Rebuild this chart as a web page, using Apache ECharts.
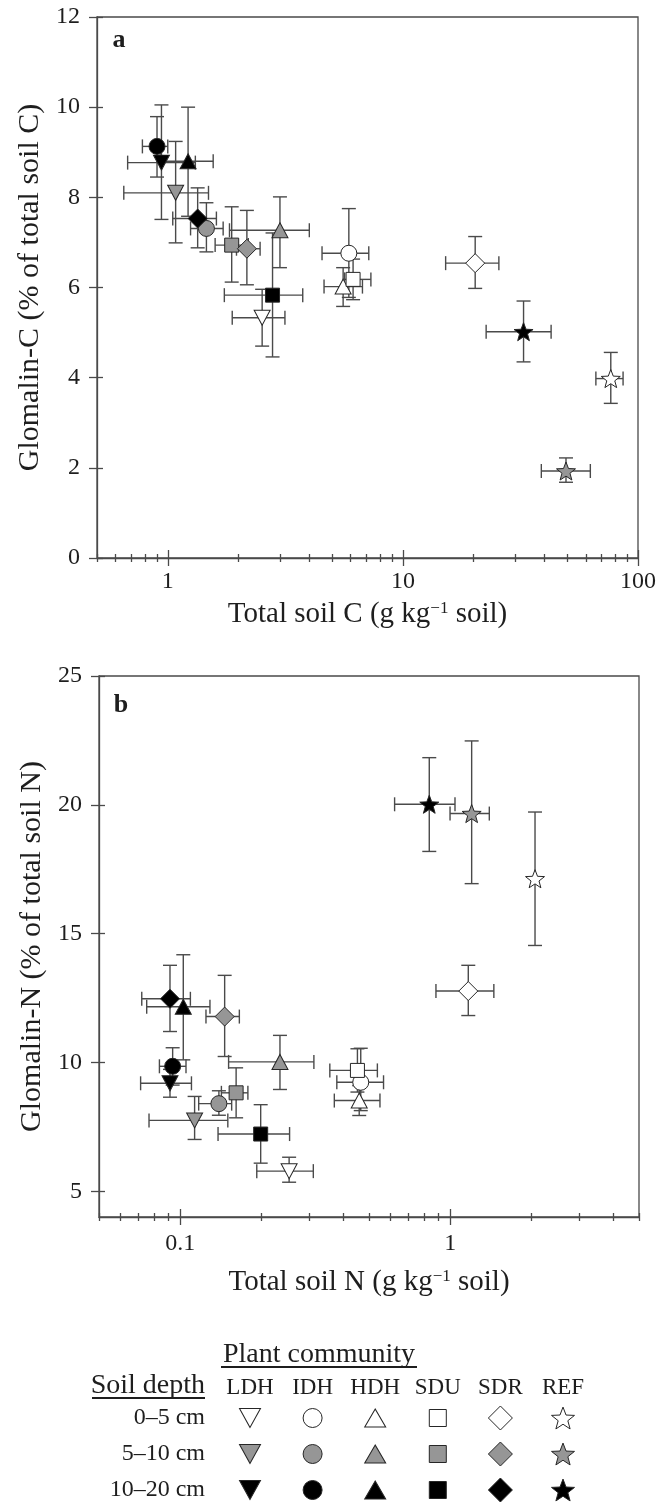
<!DOCTYPE html>
<html>
<head>
<meta charset="utf-8">
<script src="https://cdn.jsdelivr.net/npm/echarts@6/dist/echarts.min.js"></script>
<style>
  html, body { margin: 0; padding: 0; background: #fff; }
  #chart { width: 670px; height: 1503px; }
</style>
</head>
<body>
<div id="chart"></div>
<script>
// categories
const communities = ['LDH', 'IDH', 'HDH', 'SDU', 'SDR', 'REF'];
const depths = ['0–5 cm', '5–10 cm', '10–20 cm'];

// panel a – rows are depths (0–5, 5–10, 10–20), columns are communities
const totalC    = [[2.52, 5.89, 5.57, 6.14, 20.3, 76.6],
                   [1.08, 1.46, 3.00, 1.87, 2.17, 49.4],
                   [0.94, 0.90, 1.22, 2.79, 1.34, 32.6]];
const totalCLo  = [[1.88, 4.53, 4.62, 5.65, 15.2, 66.2],
                   [0.65, 1.25, 1.83, 1.59, 1.96, 38.8],
                   [0.675, 0.78, 0.93, 1.74, 1.05, 22.6]];
const totalCHi  = [[3.15, 7.16, 6.73, 7.31, 25.6, 86.4],
                   [1.49, 1.72, 4.00, 2.20, 2.47, 62.7],
                   [1.31, 1.00, 1.56, 3.75, 1.61, 42.7]];
const glomC     = [[5.33, 6.76, 6.02, 6.18, 6.54, 3.98],
                   [8.10, 7.31, 7.27, 6.94, 6.86, 1.93],
                   [8.77, 9.13, 8.80, 5.83, 7.53, 5.02]];
const glomCLo   = [[4.70, 5.78, 5.58, 5.73, 5.98, 3.43],
                   [6.99, 6.79, 6.44, 6.12, 6.06, 1.68],
                   [7.51, 8.45, 7.58, 4.46, 6.88, 4.35]];
const glomCHi   = [[5.96, 7.75, 6.44, 6.63, 7.13, 4.56],
                   [9.24, 7.88, 8.01, 7.79, 7.71, 2.22],
                   [10.05, 9.79, 10.0, 7.21, 8.21, 5.70]];

// panel b
const totalN    = [[0.253, 0.466, 0.460, 0.453, 1.166, 2.06],
                   [0.113, 0.139, 0.234, 0.161, 0.146, 1.20],
                   [0.0916, 0.0937, 0.1026, 0.1985, 0.0916, 0.836]];
const totalNLo  = [[0.192, 0.380, 0.372, 0.358, 0.885, 2.06],
                   [0.0766, 0.117, 0.151, 0.142, 0.1245, 0.998],
                   [0.0713, 0.0837, 0.0751, 0.138, 0.072, 0.622]];
const totalNHi  = [[0.311, 0.566, 0.549, 0.537, 1.45, 2.06],
                   [0.150, 0.155, 0.3125, 0.178, 0.1655, 1.395],
                   [0.110, 0.105, 0.1288, 0.254, 0.109, 1.041]];
const glomN     = [[5.78, 9.23, 8.52, 9.69, 12.77, 17.13],
                   [7.75, 8.40, 10.02, 8.82, 11.78, 19.66],
                   [9.19, 9.85, 12.16, 7.22, 12.47, 20.02]];
const glomNLo   = [[5.35, 8.13, 7.94, 8.85, 11.82, 14.54],
                   [7.01, 7.95, 8.95, 7.85, 10.23, 16.94],
                   [8.65, 9.12, 10.10, 6.09, 11.20, 18.19]];
const glomNHi   = [[6.32, 10.55, 9.10, 10.53, 13.77, 19.72],
                   [8.68, 8.90, 11.05, 9.79, 13.38, 22.48],
                   [9.73, 10.57, 14.18, 8.36, 13.77, 21.83]];

// tick values
const cMajor = [1, 10, 100];
const cMinor = [0.5, 0.6, 0.7, 0.8, 0.9, 2, 3, 4, 5, 6, 7, 8, 9, 20, 30, 40, 50, 60, 70, 80, 90];
const nMajor = [0.1, 1];
const nMinor = [0.05, 0.06, 0.07, 0.08, 0.09, 0.2, 0.3, 0.4, 0.5, 0.6, 0.7, 0.8, 0.9, 2, 3, 4, 5];
const glomCTicks = [0, 2, 4, 6, 8, 10, 12];
const glomNTicks = [5, 10, 15, 20, 25];

const FONT = '"Liberation Serif", "DejaVu Serif", serif';
const INK = '#1e1e1e';
const AXIS = '#4a4a4a';
const fills = ['#ffffff', '#969696', '#000000'];
const STAR = 'path://M50 0 L62.5 33 L97.6 34.5 L70 56.5 L79.4 90.5 L50 71 L20.6 90.5 L30 56.5 L2.4 34.5 L37.5 33 Z';
const symbols = ['triangle', 'circle', 'triangle', 'rect', 'diamond', STAR];
const rotates = [180, 0, 0, 0, 0, 0];
const sizes = [[16, 15], 16, [16, 15], 14, 19, 19];
const keySizes = [[21, 19], 19, [21, 18], 17, 24, 23];

const tickLine = { color: AXIS, width: 1.3 };

function logAxes(grid, min, max, major, minor, name, nameGap, labelMargin) {
  const base = {
    type: 'log', logBase: 10, gridIndex: grid, min: min, max: max, position: 'bottom',
    splitLine: { show: false }, axisLine: { show: false, onZero: false },
    axisLabel: { show: false }, axisTick: { show: false }, axisPointer: { show: false }
  };
  return [
    Object.assign({}, base, {
      axisLine: { show: true, onZero: false, lineStyle: { color: AXIS, width: 1.3 } },
      axisTick: { show: true, customValues: major, length: 8, lineStyle: tickLine },
      axisLabel: {
        show: true, customValues: major, margin: labelMargin, fontSize: 24, fontFamily: FONT, color: INK,
        showMinLabel: true, showMaxLabel: true,
        formatter: v => String(+(+v).toPrecision(3))
      },
      name: name, nameLocation: 'middle', nameGap: nameGap,
      nameTextStyle: {
        fontSize: 29, fontFamily: FONT, color: INK,
        rich: { sup: { fontSize: 17, fontFamily: FONT, color: INK, verticalAlign: 'top', lineHeight: 29 } }
      }
    }),
    Object.assign({}, base, { axisTick: { show: true, inside: true, customValues: major, length: 8, lineStyle: tickLine } }),
    Object.assign({}, base, { axisTick: { show: true, customValues: minor, length: 4, lineStyle: tickLine } }),
    Object.assign({}, base, { axisTick: { show: true, inside: true, customValues: minor, length: 4, lineStyle: tickLine } })
  ];
}

function valueAxes(grid, min, max, ticks, name, nameGap) {
  const base = {
    type: 'value', gridIndex: grid, min: min, max: max, position: 'left',
    splitLine: { show: false }, axisLine: { show: false, onZero: false },
    axisLabel: { show: false }, axisPointer: { show: false }
  };
  return [
    Object.assign({}, base, {
      axisLine: { show: true, onZero: false, lineStyle: { color: AXIS, width: 1.3 } },
      axisTick: { show: true, customValues: ticks, length: 8, lineStyle: tickLine },
      axisLabel: { show: true, customValues: ticks, margin: 17, fontSize: 24, fontFamily: FONT, color: INK },
      name: name, nameLocation: 'middle', nameGap: nameGap,
      nameTextStyle: { fontSize: 30, fontFamily: FONT, color: INK }
    }),
    Object.assign({}, base, { axisTick: { show: true, inside: true, customValues: ticks, length: 6, lineStyle: tickLine } })
  ];
}

function errorBars(xAxisIndex, yAxisIndex, xs, ys, xlo, xhi, ylo, yhi) {
  const data = [];
  for (let d = 0; d < depths.length; d++) {
    for (let c = 0; c < communities.length; c++) {
      data.push([xs[d][c], ys[d][c], xlo[d][c], xhi[d][c], ylo[d][c], yhi[d][c]]);
    }
  }
  return {
    type: 'custom', xAxisIndex: xAxisIndex, yAxisIndex: yAxisIndex, data: data, silent: true, z: 2,
    renderItem: function (params, api) {
      const x = api.value(0), y = api.value(1);
      const cap = 7;
      const style = { stroke: '#4a4a4a', lineWidth: 1.4, fill: null };
      const kids = [];
      const line = (x1, y1, x2, y2) => kids.push({ type: 'line', shape: { x1: x1, y1: y1, x2: x2, y2: y2 }, style: style });
      const yl = api.coord([x, api.value(4)]), yh = api.coord([x, api.value(5)]);
      line(yl[0], yl[1], yh[0], yh[1]);
      line(yl[0] - cap, yl[1], yl[0] + cap, yl[1]);
      line(yh[0] - cap, yh[1], yh[0] + cap, yh[1]);
      if (api.value(3) > api.value(2)) {
        const xl = api.coord([api.value(2), y]), xh = api.coord([api.value(3), y]);
        line(xl[0], xl[1], xh[0], xh[1]);
        line(xl[0], xl[1] - cap, xl[0], xl[1] + cap);
        line(xh[0], xh[1] - cap, xh[0], xh[1] + cap);
      }
      return { type: 'group', children: kids };
    }
  };
}

function markers(xAxisIndex, yAxisIndex, xs, ys) {
  return depths.map((dep, d) => ({
    type: 'scatter', xAxisIndex: xAxisIndex, yAxisIndex: yAxisIndex, z: 3, silent: true,
    itemStyle: { color: fills[d], borderColor: '#262626', borderWidth: 1, opacity: 1 },
    data: communities.map((cm, c) => ({
      value: [xs[d][c], ys[d][c]],
      symbol: symbols[c], symbolSize: sizes[c], symbolRotate: rotates[c], symbolKeepAspect: true
    }))
  }));
}

function legendMarkers() {
  return depths.map((dep, d) => ({
    type: 'scatter', xAxisIndex: 8, yAxisIndex: 4, silent: true,
    itemStyle: { color: fills[d], borderColor: '#262626', borderWidth: 1, opacity: 1 },
    data: communities.map((cm, c) => ({
      value: [cm, dep],
      symbol: symbols[c], symbolSize: keySizes[c], symbolRotate: rotates[c], symbolKeepAspect: true
    }))
  }));
}

const chart = echarts.init(document.getElementById('chart'));

const option = {
  animation: false,
  backgroundColor: '#ffffff',
  grid: [
    { left: 97, top: 17, width: 541, height: 541, show: true, borderColor: AXIS, borderWidth: 1.3, outerBoundsMode: 'none', containLabel: false },
    { left: 99, top: 676, width: 540, height: 541, show: true, borderColor: AXIS, borderWidth: 1.3, outerBoundsMode: 'none', containLabel: false },
    { left: 250, right: 107, top: 1418, bottom: 13, show: false, outerBoundsMode: 'none', containLabel: false }
  ],
  xAxis: [].concat(
    logAxes(0, 0.5, 100, cMajor, cMinor, 'Total soil C (g kg{sup|−1} soil)', 42, 12),
    logAxes(1, 0.05, 5, nMajor, nMinor, 'Total soil N (g kg{sup|−1} soil)', 51, 15),
    [{
      type: 'category', gridIndex: 2, data: communities, boundaryGap: false, position: 'top',
      axisLine: { show: false }, axisTick: { show: false }, splitLine: { show: false },
      axisLabel: { margin: 19, fontSize: 23, fontFamily: FONT, color: INK, interval: 0 }
    }]
  ),
  yAxis: [].concat(
    valueAxes(0, 0, 12, glomCTicks, 'Glomalin-C (% of total soil C)', 51),
    valueAxes(1, 4, 25, glomNTicks, 'Glomalin-N (% of total soil N)', 51),
    [{
      type: 'category', gridIndex: 2, data: depths, boundaryGap: false, inverse: true, position: 'left',
      axisLine: { show: false }, axisTick: { show: false }, splitLine: { show: false },
      axisLabel: { margin: 45, fontSize: 24, fontFamily: FONT, color: INK, interval: 0 }
    }]
  ),
  series: [].concat(
    [errorBars(0, 0, totalC, glomC, totalCLo, totalCHi, glomCLo, glomCHi)],
    markers(0, 0, totalC, glomC),
    [errorBars(4, 2, totalN, glomN, totalNLo, totalNHi, glomNLo, glomNHi)],
    markers(4, 2, totalN, glomN),
    legendMarkers()
  ),
  graphic: [
    { type: 'text', x: 119, y: 40, style: { text: 'a', font: 'bold 26px ' + FONT, fill: INK, align: 'center', verticalAlign: 'middle', textAlign: 'center', textVerticalAlign: 'middle' } },
    { type: 'text', x: 121, y: 705, style: { text: 'b', font: 'bold 26px ' + FONT, fill: INK, align: 'center', verticalAlign: 'middle', textAlign: 'center', textVerticalAlign: 'middle' } },
    { type: 'text', x: 319, y: 1355, style: { text: 'Plant community', font: '28px ' + FONT, fill: INK, align: 'center', verticalAlign: 'middle', textAlign: 'center', textVerticalAlign: 'middle' } },
    { type: 'line', shape: { x1: 221, y1: 1367, x2: 417, y2: 1367 }, style: { stroke: INK, lineWidth: 1.8 } },
    { type: 'text', x: 205, y: 1386, style: { text: 'Soil depth', font: '28px ' + FONT, fill: INK, align: 'right', verticalAlign: 'middle', textAlign: 'right', textVerticalAlign: 'middle' } },
    { type: 'line', shape: { x1: 92, y1: 1398, x2: 205, y2: 1398 }, style: { stroke: INK, lineWidth: 1.8 } }
  ]
};

chart.setOption(option);
</script>
</body>
</html>
